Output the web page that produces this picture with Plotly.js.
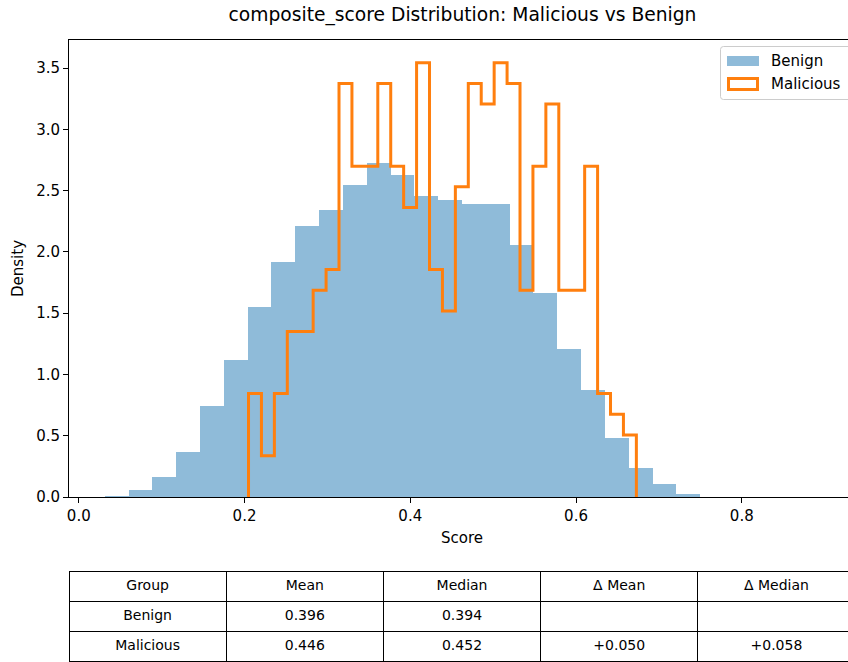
<!DOCTYPE html>
<html>
<head>
<meta charset="utf-8">
<script src="https://cdn.plot.ly/plotly-3.0.1.min.js"></script>
<style>
html,body{margin:0;padding:0;overflow:hidden;background:#fff;}
#chart{width:860px;height:662px;}
</style>
</head>
<body>
<div id="chart"></div>
<script>
// Benign histogram (30 bins, density)
const benignBinStart = 0.0313;
const benignBinWidth = 0.02874;
const benignDensity = [0.010, 0.060, 0.163, 0.369, 0.740, 1.118, 1.549, 1.921, 2.214, 2.344,
                       2.548, 2.724, 2.629, 2.458, 2.423, 2.390, 2.393, 2.057, 1.663, 1.210,
                       0.876, 0.478, 0.233, 0.106, 0.024, 0.003, 0.000, 0.000, 0.000, 0.001];
// Malicious histogram (30 bins, density, step outline)
const maliciousBinStart = 0.2048;
const maliciousBinWidth = 0.01560;
const maliciousDensity = [0.844, 0.337, 0.844, 1.350, 1.350, 1.687, 1.856, 3.374, 2.699, 2.699,
                          3.374, 2.699, 2.362, 3.543, 1.856, 1.518, 2.531, 3.374, 3.206, 3.543,
                          3.374, 1.687, 2.699, 3.206, 1.687, 1.687, 2.699, 0.844, 0.675, 0.506];
// Legend labels
const seriesNames = ["Benign", "Malicious"];
// Summary table
const tableHeader = ["Group", "Mean", "Median", "Δ Mean", "Δ Median"];
const groups = ["Benign", "Malicious"];
const means = ["0.396", "0.446"];
const medians = ["0.394", "0.452"];
const deltaMeans = ["", "+0.050"];
const deltaMedians = ["", "+0.058"];
const xTickVals = [0.0, 0.2, 0.4, 0.6, 0.8];
const yTickVals = [0.0, 0.5, 1.0, 1.5, 2.0, 2.5, 3.0, 3.5];

const benignCenters = benignDensity.map((_, i) => benignBinStart + (i + 0.5) * benignBinWidth);

// step outline points
const malX = [maliciousBinStart];
const malY = [0];
maliciousDensity.forEach((d, i) => {
  malX.push(maliciousBinStart + i * maliciousBinWidth);
  malY.push(d);
});
malX.push(maliciousBinStart + maliciousDensity.length * maliciousBinWidth);
malY.push(maliciousDensity[maliciousDensity.length - 1]);
malX.push(maliciousBinStart + maliciousDensity.length * maliciousBinWidth);
malY.push(0);

const font = "DejaVu Sans, sans-serif";
const W = 860, H = 662, mL = 69, mR = 5, mT = 40, mB = 0;
const plotW = W - mL - mR;
const plotH = H - mT - mB;
const axBottomPx = 497;
const yDomLow = (H - mB - axBottomPx) / plotH;
const tableTopPx = 571;
const tableDomHigh = (H - mB - tableTopPx) / plotH;

// pixel -> paper helpers (for legend decoration only)
const px = v => (v - mL) / plotW;
const py = v => (H - mB - v) / plotH;

const BLUE_A = "rgba(31,119,180,0.5)";
const ORANGE = "#ff7f0e";

const traces = [
  {
    type: "bar", name: seriesNames[0],
    x: benignCenters, y: benignDensity, width: benignBinWidth,
    marker: {color: BLUE_A, line: {width: 0}},
    hoverinfo: "skip"
  },
  {
    type: "scatter", mode: "lines", name: seriesNames[1],
    x: malX, y: malY,
    line: {color: ORANGE, width: 3, shape: "hv"},
    hoverinfo: "skip"
  },
  {
    type: "table",
    domain: {x: [0, 1], y: [0, tableDomHigh]},
    columnwidth: [1, 1, 1, 1, 1],
    header: {
      values: tableHeader,
      align: "center",
      height: 30,
      line: {color: "#000", width: 1},
      fill: {color: "#fff"},
      font: {family: font, size: 14, color: "#000"}
    },
    cells: {
      values: [groups, means, medians, deltaMeans, deltaMedians],
      align: "center",
      height: 30,
      line: {color: "#000", width: 1},
      fill: {color: "#fff"},
      font: {family: font, size: 14, color: "#000"}
    }
  }
];

// custom matplotlib-like legend
const L = 720.5, T = 46.5, R = 852, B = 99.5, rr = 3;
const legendPath = `M ${px(L + rr)},${py(T)} L ${px(R - rr)},${py(T)} Q ${px(R)},${py(T)} ${px(R)},${py(T + rr)} ` +
  `L ${px(R)},${py(B - rr)} Q ${px(R)},${py(B)} ${px(R - rr)},${py(B)} L ${px(L + rr)},${py(B)} ` +
  `Q ${px(L)},${py(B)} ${px(L)},${py(B - rr)} L ${px(L)},${py(T + rr)} Q ${px(L)},${py(T)} ${px(L + rr)},${py(T)} Z`;

const shapes = [
  {type: "path", xref: "paper", yref: "paper", path: legendPath,
   line: {color: "#cccccc", width: 1}, fillcolor: "rgba(255,255,255,0.8)", layer: "above"},
  {type: "rect", xref: "paper", yref: "paper",
   x0: px(727), x1: px(759), y0: py(56), y1: py(66),
   line: {width: 0}, fillcolor: BLUE_A, layer: "above"},
  {type: "rect", xref: "paper", yref: "paper",
   x0: px(728.5), x1: px(757.5), y0: py(78.5), y1: py(89.5),
   line: {color: ORANGE, width: 3}, fillcolor: "rgba(0,0,0,0)", layer: "above"}
];
const annotations = [
  {xref: "paper", yref: "paper", x: px(769), y: py(61), xanchor: "left", yanchor: "middle",
   text: seriesNames[0], showarrow: false, font: {family: font, size: 15, color: "#000"}},
  {xref: "paper", yref: "paper", x: px(769), y: py(84), xanchor: "left", yanchor: "middle",
   text: seriesNames[1], showarrow: false, font: {family: font, size: 15, color: "#000"}}
];

const layout = {
  width: W, height: H,
  margin: {l: mL, r: mR, t: mT, b: mB},
  paper_bgcolor: "#fff", plot_bgcolor: "#fff",
  font: {family: font, size: 15, color: "#000"},
  title: {
    text: "composite_score Distribution: Malicious vs Benign",
    font: {family: font, size: 18.7, color: "#000"},
    x: 462.5 / W, xanchor: "center", xref: "container",
    y: 1 - 14 / H, yanchor: "middle", yref: "container"
  },
  bargap: 0,
  showlegend: false,
  shapes: shapes,
  annotations: annotations,
  xaxis: {
    domain: [0, 1],
    anchor: "y",
    range: [-0.0118, 0.9366],
    tickvals: xTickVals, tickformat: ".1f",
    ticks: "outside", ticklen: 5, tickwidth: 1, tickcolor: "#000",
    showline: true, linecolor: "#000", linewidth: 1, mirror: true,
    showgrid: false, zeroline: false,
    tickfont: {family: font, size: 15, color: "#000"},
    title: {text: "Score", font: {family: font, size: 15, color: "#000"}, standoff: 8}
  },
  yaxis: {
    domain: [yDomLow, 1],
    range: [0, 3.729],
    tickvals: yTickVals, tickformat: ".1f",
    ticks: "outside", ticklen: 5, tickwidth: 1, tickcolor: "#000",
    showline: true, linecolor: "#000", linewidth: 1,
    showgrid: false, zeroline: false,
    tickfont: {family: font, size: 15, color: "#000"},
    title: {text: "Density", font: {family: font, size: 15, color: "#000"}, standoff: 8}
  }
};

Plotly.newPlot("chart", traces, layout, {displayModeBar: false, staticPlot: true});
</script>
</body>
</html>
